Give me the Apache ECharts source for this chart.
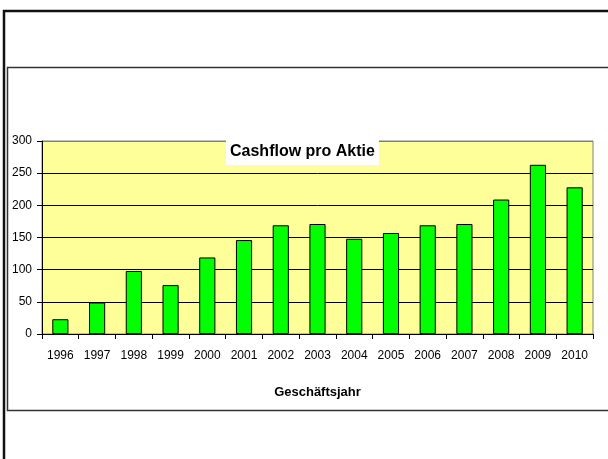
<!DOCTYPE html>
<html>
<head>
<meta charset="utf-8">
<script src="https://cdn.jsdelivr.net/npm/echarts@6/dist/echarts.min.js"></script>
<style>
  html, body { margin: 0; padding: 0; background: #fff; }
  #main { width: 608px; height: 459px; }
</style>
</head>
<body>
<div id="main"></div>
<script>
var years = ["1996", "1997", "1998", "1999", "2000", "2001", "2002", "2003", "2004", "2005", "2006", "2007", "2008", "2009", "2010"];
var cashflow = [23, 49, 98, 76, 119, 146, 169, 171, 148, 157, 169, 171, 209, 263, 228];
var yTicks = [0, 50, 100, 150, 200, 250, 300];

var FONT = "'Liberation Sans', Arial, sans-serif";

var myChart = echarts.init(document.getElementById("main"));
var option = {
    animation: false,
    title: {
        text: "Cashflow pro Aktie",
        left: 226,
        top: 139,
        padding: [5, 4, 5, 4],
        backgroundColor: "#fff",
        textStyle: { fontFamily: FONT, fontSize: 16, fontWeight: "bold", color: "#000" }
    },
    graphic: [
        {
            type: "rect", z: 0,
            shape: { x: 4, y: 11, width: 620, height: 470 },
            style: { fill: null, stroke: "#111", lineWidth: 2.5 }
        },
        {
            type: "rect", z: 0,
            shape: { x: 7.5, y: 67.5, width: 620, height: 343 },
            style: { fill: null, stroke: "#333", lineWidth: 1.5 }
        }
    ],
    grid: {
        left: 42, right: 15, top: 141, bottom: 125,
        show: true,
        backgroundColor: "#FFFF99",
        borderColor: "#808080",
        borderWidth: 1
    },
    xAxis: {
        type: "category",
        data: years,
        boundaryGap: true,
        name: "Geschäftsjahr",
        nameLocation: "middle",
        nameGap: 52,
        nameTextStyle: { fontFamily: FONT, fontSize: 13, fontWeight: "bold", color: "#000" },
        axisLine: { lineStyle: { color: "#000", width: 1 } },
        axisTick: { show: true, length: 5, lineStyle: { color: "#000" } },
        axisLabel: { fontFamily: FONT, fontSize: 12, color: "#000", margin: 16, interval: 0 }
    },
    yAxis: {
        type: "value",
        min: 0, max: 300, interval: 50,
        axisLine: { show: true, lineStyle: { color: "#000", width: 1 } },
        axisTick: { show: true, length: 5, lineStyle: { color: "#000" } },
        axisLabel: {
            fontFamily: FONT, fontSize: 12, color: "#000", margin: 10,
            formatter: function (v) { return yTicks.indexOf(v) >= 0 ? String(v) : ""; }
        },
        splitLine: {
            show: true,
            lineStyle: { color: ["#000", "#000", "#000", "#000", "#000", "#000", "#808080"], width: 1 }
        }
    },
    series: [
        {
            type: "bar",
            data: cashflow,
            barWidth: "44%",
            itemStyle: { color: "#00FF00", borderColor: "#000", borderWidth: 1 }
        }
    ]
};
myChart.setOption(option);
</script>
</body>
</html>
